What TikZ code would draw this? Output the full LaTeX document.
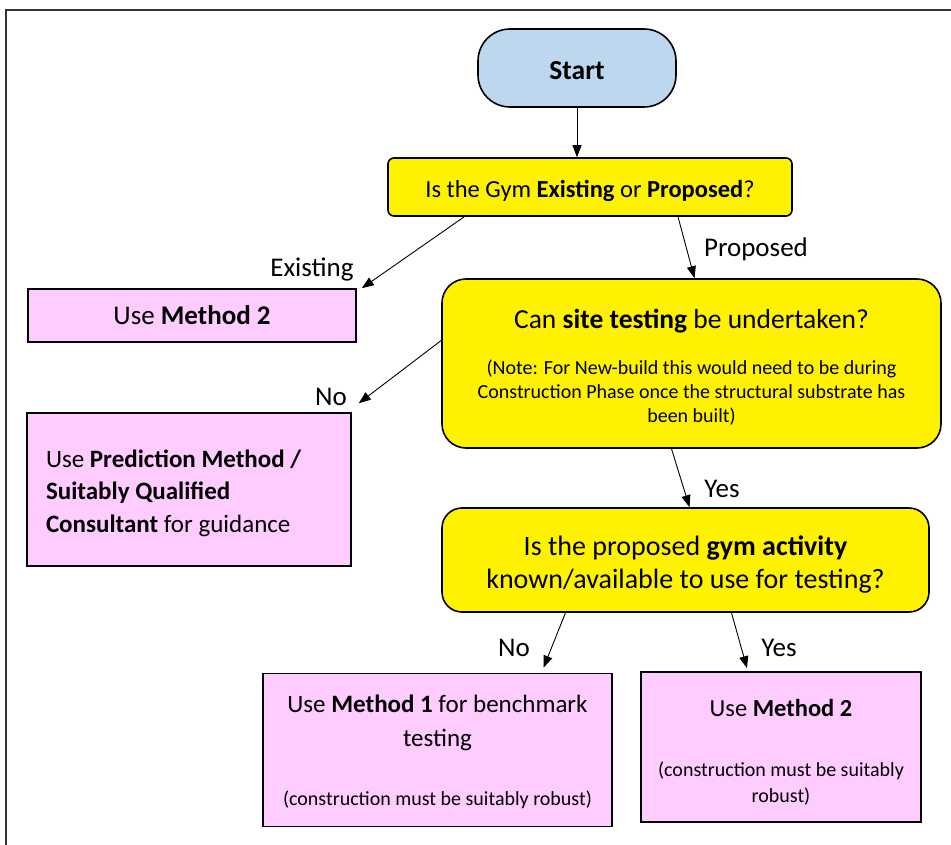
\documentclass[tikz,border=0pt]{standalone}
\usepackage{fontspec}
\setmainfont{Carlito}
\usetikzlibrary{arrows.meta}
\definecolor{startblue}{HTML}{BDD7EE}
\definecolor{methodpink}{HTML}{FFCCFF}
\newcommand\notesz{\fontsize{20}{24}\selectfont}
\newcommand\robustsz{\fontsize{20}{26}\selectfont}

\begin{document}
\begin{tikzpicture}[x=1pt, y=-1pt, >={Triangle[length=12pt,width=9pt]}, font=\fontsize{24.5}{33}\selectfont]
    \tikzset{box/.style={draw, line width=1.6pt, align=center, inner sep=0pt},
        query/.style={box, fill=yellow},
        result/.style={box, fill=methodpink},
        drop/.style={execute at begin node={\rule{0pt}{#1}}},
        link/.style={->, line width=0.9pt},
        lbl/.style={font=\fontsize{27}{30}\selectfont}}
    \useasboundingbox (0,0) rectangle (951,845);
    \draw[line width=2.2pt, black!80] (6,845) |- (951,10);
    % questions
    \node[box, fill=startblue, rounded corners=32pt, minimum width=198pt, minimum height=78pt, font=\fontsize{27.5}{30}\selectfont\bfseries, drop=24pt] (start) at (577,68) {Start};
    \node[query, rounded corners=6pt, minimum width=404pt, minimum height=58pt, drop=24.5pt] (q1) at (590,187) {Is the Gym \textbf{Existing} or \textbf{Proposed}?};
    \node[query, rounded corners=24pt, minimum width=499pt, minimum height=169pt, font=\notesz] (q2) at (691.5,363.5) {{\fontsize{27.5}{33}\selectfont\rule{0pt}{27pt}Can \textbf{site testing} be undertaken?}\\[21.5pt]
        (Note: For New-build this would need to be during\\
        Construction Phase once the structural substrate has\\
        been built)};
    \node[query, rounded corners=20pt, minimum width=487pt, minimum height=104pt, font=\fontsize{28}{33}\selectfont] (q3) at (685.5,560) {\rule{0pt}{29pt}Is the proposed \textbf{gym activity}\\known/available to use for testing?};
    % outcomes
    \node[result, minimum width=328pt, minimum height=53pt, font=\fontsize{27}{30}\selectfont] (m2a) at (192,315.5) {Use \textbf{Method 2}};
    \node[result, align=flush left, text width=286pt, inner xsep=19pt, minimum height=153pt, font=\fontsize{25}{32.5}\selectfont, drop=25pt] (pred) at (189,489.5) {Use \textbf{Prediction Method /}\\\textbf{Suitably Qualified}\\\textbf{Consultant} for guidance};
    \node[result, minimum width=349pt, minimum height=153pt, font=\fontsize{25}{34}\selectfont] (m1) at (437.5,750) {\rule{0pt}{21pt}Use \textbf{Method 1} for benchmark\\testing\\[24.5pt]
        \robustsz(construction must be suitably robust)};
    \node[result, minimum width=280pt, minimum height=150pt, font=\robustsz] (m2b) at (781,747) {{\fontsize{24.5}{30}\selectfont\rule{0pt}{28pt}Use \textbf{Method 2}}\\[34.5pt]
        (construction must be suitably\\robust)};
    % labels
    \node[lbl] (lexist) at (312,269) {Existing};
    \node[lbl] (lprop) at (756,249) {Proposed};
    \node[lbl] (lno1) at (331,397) {No};
    \node[lbl] (lyes1) at (722,489) {Yes};
    \node[lbl] (lno2) at (514,648) {No};
    \node[lbl] (lyes2) at (779,648) {Yes};
    % arrows
    \draw[link] (start.south) -- (start.south |- q1.north);
    \draw[link] ([xshift=77pt]q1.south west) -- ([xshift=5pt]m2a.north east);
    \draw[link] ([xshift=88pt]q1.south) -- ([xshift=3pt]q2.north);
    \draw[link] ([yshift=23pt]q2.west) -- ([shift={(7,-9)}]pred.north east);
    \draw[link] ([xshift=-20pt]q2.south) -- ([xshift=4pt]q3.north);
    \draw[link] ([xshift=-120pt]q3.south) -- ([shift={(106,-5)}]m1.north);
    \draw[link] ([xshift=46pt]q3.south) -- ([shift={(-34,-3)}]m2b.north);
\end{tikzpicture}
\end{document}
